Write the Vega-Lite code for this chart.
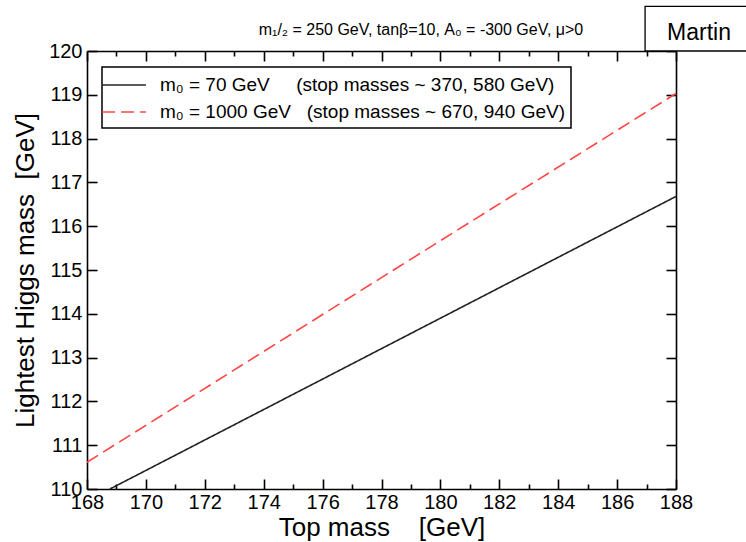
{
  "$schema": "https://vega.github.io/schema/vega-lite/v6.json",
  "width": 589,
  "height": 438,
  "autosize": {"type": "none"},
  "padding": {"left": 87, "top": 51, "right": 70, "bottom": 53},
  "background": "white",
  "config": {
    "view": {"stroke": null},
    "font": "Liberation Sans",
    "axis": {"domainColor": "black", "domainWidth": 1.6, "tickColor": "black", "tickWidth": 1.6, "labelColor": "black", "titleColor": "black", "labelFont": "Liberation Sans", "titleFont": "Liberation Sans", "labelFontSize": 20, "titleFontSize": 26, "titleFontWeight": "normal", "grid": false, "labelOverlap": false, "labelFlush": false},
    "legend": {"orient": "none", "legendX": 15, "legendY": 16, "strokeColor": "black", "strokeWidth": 1.5, "fillColor": "white", "padding": 6, "symbolType": "M-2,0H2", "symbolSize": 480, "symbolOffset": 4, "symbolStrokeWidth": 1.6, "symbolFillColor": "transparent", "labelFontSize": 19, "labelFont": "Liberation Sans", "labelColor": "black", "labelLimit": 0, "rowPadding": 5, "labelOffset": 24}
  },
  "datasets": {
    "lines": [
      {"series": "m₀ = 70 GeV\u00a0\u00a0\u00a0\u00a0\u00a0(stop masses ~ 370, 580 GeV)", "top": 168.78, "higgs": 110.0},
      {"series": "m₀ = 70 GeV\u00a0\u00a0\u00a0\u00a0\u00a0(stop masses ~ 370, 580 GeV)", "top": 188.0, "higgs": 116.68},
      {"series": "m₀ = 1000 GeV\u00a0\u00a0\u00a0(stop masses ~ 670, 940 GeV)", "top": 168.0, "higgs": 110.61},
      {"series": "m₀ = 1000 GeV\u00a0\u00a0\u00a0(stop masses ~ 670, 940 GeV)", "top": 178.6, "higgs": 115.08},
      {"series": "m₀ = 1000 GeV\u00a0\u00a0\u00a0(stop masses ~ 670, 940 GeV)", "top": 188.0, "higgs": 119.03}
    ],
    "note": [
      {"label": "Martin", "x1": 186.95, "x2": 190.5, "y1": 120.0, "y2": 121.02, "xm": 188.78, "ym": 120.25}
    ],
    "heading": [
      {"label": "m₁/₂ = 250 GeV, tanβ=10, A₀ = -300 GeV, μ>0", "xm": 179.34, "ym": 120.365}
    ]
  },
  "layer": [
    {
      "data": {"name": "lines"},
      "mark": {"type": "line", "strokeWidth": 1.6, "clip": false},
      "encoding": {
        "x": {"field": "top", "type": "quantitative", "scale": {"domain": [168, 188], "nice": false, "zero": false},
          "axis": {"orient": "bottom", "title": "Top mass\u00a0\u00a0\u00a0\u00a0[GeV]", "values": [168,169,170,171,172,173,174,175,176,177,178,179,180,181,182,183,184,185,186,187,188],
            "labelExpr": "datum.value % 2 === 0 ? datum.label : ''",
            "tickSize": {"condition": {"test": "datum.value % 2 === 0", "value": -10}, "value": -5},
            "labelPadding": 13, "titlePadding": -3}},
        "y": {"field": "higgs", "type": "quantitative", "scale": {"domain": [110, 120], "nice": false, "zero": false},
          "axis": {"orient": "left", "title": "Lightest Higgs mass\u00a0\u00a0[GeV]", "values": [110,111,112,113,114,115,116,117,118,119,120], "tickSize": -10, "labelPadding": 15, "titlePadding": 10}},
        "color": {"field": "series", "type": "nominal", "title": null,
          "scale": {"domain": ["m₀ = 70 GeV\u00a0\u00a0\u00a0\u00a0\u00a0(stop masses ~ 370, 580 GeV)", "m₀ = 1000 GeV\u00a0\u00a0\u00a0(stop masses ~ 670, 940 GeV)"], "range": ["#222222", "#ff4545"]}},
        "strokeDash": {"field": "series", "type": "nominal", "title": null,
          "scale": {"domain": ["m₀ = 70 GeV\u00a0\u00a0\u00a0\u00a0\u00a0(stop masses ~ 370, 580 GeV)", "m₀ = 1000 GeV\u00a0\u00a0\u00a0(stop masses ~ 670, 940 GeV)"], "range": [[1, 0], [13, 6]]}}
      }
    },
    {
      "data": {"name": "note"},
      "mark": {"type": "rect", "fill": "white", "stroke": "black", "strokeWidth": 1.3, "clip": false},
      "encoding": {
        "x": {"field": "x1", "type": "quantitative",
          "axis": {"orient": "top", "title": null, "labels": false, "values": [168,169,170,171,172,173,174,175,176,177,178,179,180,181,182,183,184,185,186,187,188],
            "tickSize": {"condition": {"test": "datum.value % 2 === 0", "value": -10}, "value": -5}}},
        "x2": {"field": "x2"},
        "y": {"field": "y1", "type": "quantitative",
          "axis": {"orient": "right", "title": null, "labels": false, "values": [110,111,112,113,114,115,116,117,118,119,120], "tickSize": -10}},
        "y2": {"field": "y2"}
      }
    },
    {
      "data": {"name": "note"},
      "mark": {"type": "text", "fontSize": 23, "font": "Liberation Sans", "color": "black", "clip": false, "align": "center", "baseline": "alphabetic"},
      "encoding": {
        "x": {"field": "xm", "type": "quantitative", "axis": null},
        "y": {"field": "ym", "type": "quantitative", "axis": null},
        "text": {"field": "label"}
      }
    },
    {
      "data": {"name": "heading"},
      "mark": {"type": "text", "fontSize": 16, "font": "Liberation Sans", "color": "black", "clip": false, "align": "center", "baseline": "alphabetic"},
      "encoding": {
        "x": {"field": "xm", "type": "quantitative", "axis": null},
        "y": {"field": "ym", "type": "quantitative", "axis": null},
        "text": {"field": "label"}
      }
    }
  ],
  "resolve": {"axis": {"x": "independent", "y": "independent"}}
}
